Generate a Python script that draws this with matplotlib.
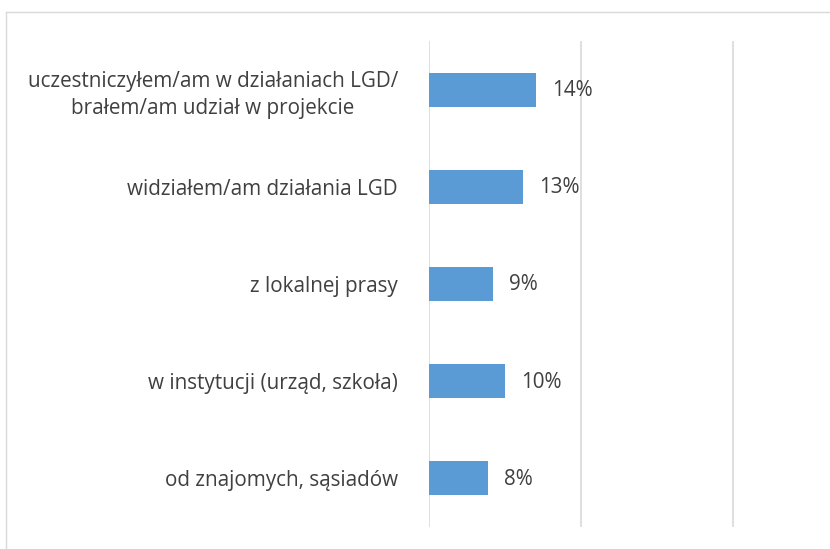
import matplotlib.pyplot as plt
from matplotlib.lines import Line2D

# Data
categories = [
    "uczestniczyłem/am w działaniach LGD/\nbrałem/am udział w projekcie",
    "widziałem/am działania LGD",
    "z lokalnej prasy",
    "w instytucji (urząd, szkoła)",
    "od znajomych, sąsiadów",
]
values = [14.1, 12.4, 8.5, 10.1, 7.8]
value_labels = ["14%", "13%", "9%", "10%", "8%"]
grid_ticks = [0, 20, 40]

plt.rcParams["font.family"] = ["Open Sans", "DejaVu Sans"]
text_color = "#404040"
font_size = 14.9

fig = plt.figure(figsize=(8.3, 5.49), dpi=100)
ax = fig.add_axes([428.5 / 830, 1 - 527 / 549, 1 - 428.5 / 830, (527 - 41) / 549])

y_pos = list(range(len(categories)))[::-1]
ax.barh(y_pos, values, height=0.35, color="#5B9BD5", zorder=3)

for y, v, lab in zip(y_pos, values, value_labels):
    ax.annotate(lab, xy=(v, y), xytext=(16, -1), textcoords="offset pixels",
                ha="left", va="center", fontsize=font_size, color=text_color)

ax.set_xlim(0, (830 - 428.5) / 7.62)
ax.set_ylim(-0.5, len(categories) - 0.5)
ax.set_xticks(grid_ticks)
ax.set_xticklabels([])
ax.tick_params(axis="x", length=0)
ax.grid(axis="x", color="#D9D9D9", linewidth=1.2, zorder=0)

ax.set_yticks(y_pos)
ax.set_yticklabels(categories, fontsize=font_size, color=text_color,
                   multialignment="center", linespacing=1.35)
ax.tick_params(axis="y", length=0, pad=22)

for s in ax.spines.values():
    s.set_visible(False)

# outer chart frame (top and left edge visible)
fig.add_artist(Line2D([5.5 / 830, 5.5 / 830], [0, 1 - 12 / 549],
                      transform=fig.transFigure, color="#D9D9D9", linewidth=1))
fig.add_artist(Line2D([5.5 / 830, 1], [1 - 12 / 549, 1 - 12 / 549],
                      transform=fig.transFigure, color="#D9D9D9", linewidth=1))

fig.savefig("out.png", dpi=100)
